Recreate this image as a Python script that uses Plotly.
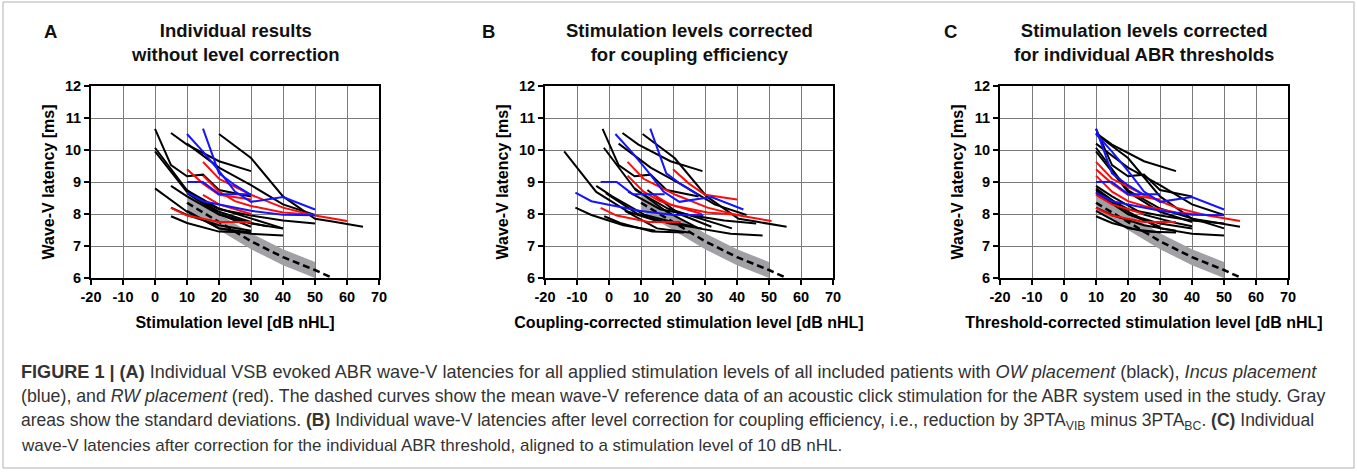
import plotly.graph_objects as go

# ---------------- data ----------------
patient_group = ["OW"] * 14 + ["Incus"] * 4 + ["RW"] * 5

latency = [
    [10.66, 9.53, 9.18, 9.23, 8.75, 8.55],
    [10.07, 8.74, 8.17, 7.86, 7.55],
    [9.96, 8.69, 8.07, 7.75],
    [8.80, 8.07, 7.55, 7.38, 7.33],
    [10.53, 10.17, 9.65, 9.34],
    [10.20, 9.45, 8.90, 8.30, 7.97],
    [10.50, 9.75, 8.55, 7.85, 7.77, 7.60],
    [8.88, 8.55, 7.98, 7.72, 7.62],
    [8.20, 7.97, 7.65, 7.48],
    [7.93, 7.72, 7.45, 7.42],
    [8.70, 8.15, 7.95, 7.80, 7.70],
    [8.75, 8.00, 7.60],
    [8.65, 8.00, 7.70, 7.55],
    [8.10, 7.55, 7.42],
    [10.50, 9.95, 9.35, 8.70, 8.38, 8.53, 8.14],
    [10.67, 9.27, 8.90, 8.60],
    [9.00, 9.00, 8.62, 8.62],
    [8.67, 8.40, 8.30, 8.10, 7.98, 7.96],
    [9.40, 8.95, 8.60, 8.45],
    [9.63, 9.10, 8.85, 8.60, 8.20, 7.95, 7.78],
    [9.20, 8.70, 8.40, 8.25, 8.05, 7.97],
    [8.60, 8.30, 8.00],
    [8.19, 7.95, 7.75, 7.75],
]

level_A = [
    [0, 5, 10, 15, 20, 30],
    [0, 10, 20, 30, 40],
    [0, 10, 20, 30],
    [0, 10, 20, 30, 40],
    [5, 10, 20, 30],
    [10, 20, 30, 40, 50],
    [20, 30, 40, 50, 55, 65],
    [5, 10, 20, 30, 35],
    [5, 10, 20, 30],
    [5, 10, 20, 30],
    [10, 20, 30, 40, 50],
    [10, 20, 30],
    [10, 20, 30, 40],
    [10, 20, 30],
    [10, 15, 20, 25, 30, 40, 50],
    [15, 20, 25, 30],
    [10, 15, 20, 30],
    [10, 15, 20, 30, 40, 50],
    [10, 15, 20, 30],
    [15, 20, 25, 30, 40, 50, 60],
    [15, 20, 25, 30, 40, 50],
    [15, 20, 30],
    [5, 10, 20, 30],
]

level_B = [
    [-2, 3, 8, 13, 18, 28],
    [-1.6, 8.4, 18.4, 28.4, 38.4],
    [-14, -4, 6, 16],
    [8, 18, 28, 38, 48],
    [4.2, 9.2, 19.2, 29.2],
    [3, 13, 23, 33, 43],
    [10.5, 20.5, 30.5, 40.5, 45.5, 55.5],
    [-4, 1, 11, 21, 26],
    [-10.5, -5.5, 4.5, 14.5],
    [-1.5, 3.5, 13.5, 23.5],
    [6, 16, 26, 36, 46],
    [12, 22, 32],
    [-1, 9, 19, 29],
    [5, 15, 25],
    [2, 7, 12, 17, 22, 32, 42],
    [12.9, 17.9, 22.9, 27.9],
    [-2.6, 2.4, 7.4, 17.4],
    [-10.5, -5.5, -0.5, 9.5, 19.5, 29.5],
    [20, 25, 30, 40],
    [5.8, 10.8, 15.8, 20.8, 30.8, 40.8, 50.8],
    [5.8, 10.8, 15.8, 20.8, 30.8, 40.8],
    [14, 19, 29],
    [-2.6, 2.4, 12.4, 22.4],
]

level_C = [
    [10, 15, 20, 25, 30, 40],
    [10, 20, 30, 40, 50],
    [10, 20, 30, 40],
    [10, 20, 30, 40, 50],
    [10, 15, 25, 35],
    [10, 20, 30, 40, 50],
    [10, 20, 30, 40, 45, 55],
    [10, 15, 25, 35, 40],
    [10, 15, 25, 35],
    [10, 15, 25, 35],
    [10, 20, 30, 40, 50],
    [10, 20, 30],
    [10, 20, 30, 40],
    [10, 20, 30],
    [10, 15, 20, 25, 30, 40, 50],
    [10, 15, 20, 25],
    [10, 15, 20, 30],
    [10, 15, 20, 30, 40, 50],
    [10, 15, 20, 30],
    [10, 15, 20, 25, 35, 45, 55],
    [10, 15, 20, 25, 35, 45],
    [10, 15, 25],
    [10, 15, 25, 35],
]

ref_level = [10, 20, 30, 40, 50, 55]
ref_mean = [8.35, 7.75, 7.15, 6.65, 6.25, 6.02]
ref_sd_level = [10, 20, 30, 40, 50]
ref_upper = [8.60, 8.00, 7.40, 6.90, 6.50]
ref_lower = [8.10, 7.50, 6.90, 6.40, 6.00]

group_color = {"OW": "#000000", "Incus": "#1414ff", "RW": "#ff0a0a"}

panel_letters = ["A", "B", "C"]
panel_titles = [
    "Individual results<br>without level correction",
    "Stimulation levels corrected<br>for coupling efficiency",
    "Stimulation levels corrected<br>for individual ABR thresholds",
]
x_titles = [
    "Stimulation level [dB nHL]",
    "Coupling-corrected stimulation level [dB nHL]",
    "Threshold-corrected stimulation level [dB nHL]",
]
y_title = "Wave-V latency [ms]"
x_ticks = [-20, -10, 0, 10, 20, 30, 40, 50, 60, 70]
x_tick_text = ["-20", "-10", "0", "10", "20", "30", "40", "50", "60", "70"]
y_ticks = [6, 7, 8, 9, 10, 11, 12]

caption_lines = [
    "<b>FIGURE 1 | (A)</b> Individual VSB evoked ABR wave-V latencies for all applied stimulation levels of all included patients with <i>OW placement</i> (black), <i>Incus placement</i>",
    "(blue), and <i>RW placement</i> (red). The dashed curves show the mean wave-V reference data of an acoustic click stimulation for the ABR system used in the study. Gray",
    "areas show the standard deviations. <b>(B)</b> Individual wave-V latencies after level correction for coupling efficiency, i.e., reduction by 3PTA<sub>VIB</sub> minus 3PTA<sub>BC</sub>. <b>(C)</b> Individual",
    "wave-V latencies after correction for the individual ABR threshold, aligned to a stimulation level of 10 dB nHL.",
]

# ---------------- layout geometry ----------------
W, H = 1357, 474
x_dom_px = [(91, 379), (545, 833), (1000, 1288)]
letter_x_px = [50, 488, 950]
y_dom_px = (86, 278)
cap_y = [372, 396, 421, 445]
cap_size = [18.1, 17.75, 17.5, 17.0]

fig = go.Figure()
FONT = "Liberation Sans, Arial, sans-serif"

levels_by_panel = [level_A, level_B, level_C]

for p in range(3):
    ax = "" if p == 0 else str(p + 1)
    xref, yref = "x" + ax, "y" + ax
    # SD band
    fig.add_trace(go.Scatter(
        x=ref_sd_level + ref_sd_level[::-1],
        y=ref_upper + ref_lower[::-1],
        fill="toself", fillcolor="#a0a0a5", line=dict(width=0),
        mode="lines", hoverinfo="skip", showlegend=False,
        xaxis=xref, yaxis=yref))
    fig.add_trace(go.Scatter(
        x=ref_level, y=ref_mean, mode="lines",
        line=dict(color="#000000", width=2.5, dash="7px,4px"),
        showlegend=False, xaxis=xref, yaxis=yref))
    for grp in ["OW", "RW", "Incus"]:
        for i, g in enumerate(patient_group):
            if g != grp:
                continue
            fig.add_trace(go.Scatter(
                x=levels_by_panel[p][i], y=latency[i], mode="lines",
                line=dict(color=group_color[g], width=2),
                showlegend=False, xaxis=xref, yaxis=yref))

    x0, x1 = x_dom_px[p]
    axis_common = dict(
        showgrid=True, gridcolor="#7a7a7a", gridwidth=1,
        showline=True, linecolor="#000000", linewidth=2, mirror=True,
        ticks="outside", ticklen=5, tickwidth=2, tickcolor="#000000",
        tickfont=dict(family=FONT, size=14.5, color="#000000", weight="bold"),
        zeroline=False, fixedrange=True, automargin=False,
    )
    fig.update_layout(**{
        "xaxis" + ax: dict(
            axis_common, domain=[x0 / W, x1 / W], range=[-20, 70],
            tickvals=x_ticks, ticktext=x_tick_text, anchor=yref,
            title=dict(text=x_titles[p], standoff=12,
                       font=dict(family=FONT, size=16, color="#000000", weight="bold"))),
        "yaxis" + ax: dict(
            axis_common, domain=[1 - y_dom_px[1] / H, 1 - y_dom_px[0] / H],
            range=[6, 12], tickvals=y_ticks, anchor=xref,
            title=dict(text=y_title, standoff=6,
                       font=dict(family=FONT, size=16, color="#000000", weight="bold"))),
    })
    # panel title and letter
    fig.add_annotation(
        x=(x0 + x1) / 2 / W, y=1 - 42 / H, xref="paper", yref="paper",
        text="<b>" + panel_titles[p] + "</b>", showarrow=False,
        xanchor="center", yanchor="middle",
        font=dict(family=FONT, size=18.5, color="#111111"))
    fig.add_annotation(
        x=letter_x_px[p] / W, y=1 - 32 / H, xref="paper", yref="paper",
        text="<b>" + panel_letters[p] + "</b>", showarrow=False,
        xanchor="center", yanchor="middle",
        font=dict(family=FONT, size=18.5, color="#111111"))

# caption
for t, yy, sz in zip(caption_lines, cap_y, cap_size):
    fig.add_annotation(
        x=19 / W, y=1 - yy / H, xref="paper", yref="paper",
        text=t, showarrow=False, xanchor="left", yanchor="middle",
        font=dict(family="Liberation Sans, Arial, sans-serif",
                  size=sz, color="#333333"))

# outer frame
fig.add_shape(type="rect", xref="paper", yref="paper",
              x0=3 / W, x1=1 - 3 / W, y0=1 - 468 / H, y1=1 - 2 / H,
              line=dict(color="#b0b0b0", width=1))

fig.update_layout(
    width=W, height=H,
    margin=dict(l=0, r=0, t=0, b=0, pad=0, autoexpand=False),
    paper_bgcolor="#ffffff", plot_bgcolor="#ffffff",
    showlegend=False,
)

fig.write_html(
    "out.html",
    config={"displayModeBar": False, "staticPlot": True},
    post_script="document.body.style.margin='0px';document.body.style.overflow='hidden';",
)
